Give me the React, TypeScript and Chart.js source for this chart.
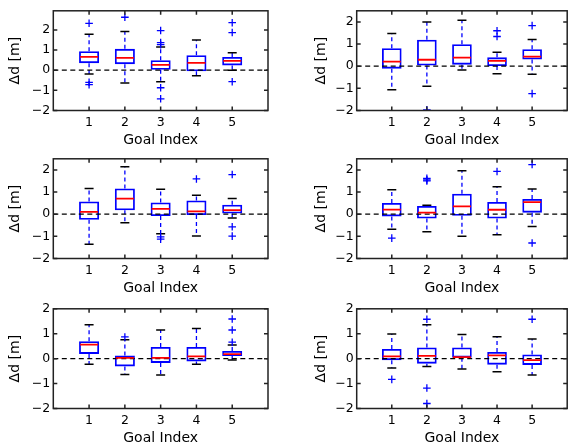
import { useEffect, useRef } from "react";
import { Chart, registerables } from "chart.js";

Chart.register(...registerables);

// Goal positions along the x axis and the y tick values shared by every panel
const goals = [1, 2, 3, 4, 5];
const yTicks = [-2, -1, 0, 1, 2];
const yMin = -2;
// Upper y limit per panel (row-major: top-left, top-right, mid-left, ...)
const yMaxes = [2.95, 2.5, 2.5, 2.5, 2, 2];

// Box-plot statistics, one row per panel, one column per goal
const whiskerLow = [
  [-0.19, -0.63, -0.57, -0.27, 0.0],
  [-1.06, -0.9, -0.17, -0.34, -0.36],
  [-1.36, -0.39, -0.88, -0.98, -0.17],
  [-0.68, -0.79, -1.0, -0.93, -0.56],
  [-0.22, -0.64, -0.66, -0.22, -0.05],
  [-0.38, -0.31, -0.42, -0.53, -0.66],
];
const quartileLow = [
  [0.35, 0.3, 0.02, -0.05, 0.24],
  [-0.11, 0.03, 0.07, 0.01, 0.3],
  [-0.25, 0.18, -0.08, -0.04, 0.03],
  [-0.1, -0.2, -0.07, -0.2, 0.07],
  [0.19, -0.31, -0.17, -0.11, 0.11],
  [-0.06, -0.2, 0.04, -0.24, -0.25],
];
const medians = [
  [0.66, 0.61, 0.27, 0.36, 0.46],
  [0.21, 0.29, 0.39, 0.24, 0.43],
  [0.1, 0.7, 0.24, 0.13, 0.18],
  [0.21, 0.07, 0.35, 0.2, 0.54],
  [0.56, 0.03, 0.03, 0.09, 0.18],
  [0.09, 0.11, 0.06, 0.13, -0.06],
];
const quartileHigh = [
  [0.94, 1.06, 0.5, 0.74, 0.66],
  [0.81, 1.19, 0.99, 0.4, 0.77],
  [0.57, 1.16, 0.53, 0.62, 0.43],
  [0.51, 0.37, 0.92, 0.55, 0.69],
  [0.7, 0.13, 0.47, 0.47, 0.31],
  [0.39, 0.45, 0.45, 0.27, 0.17],
];
const whiskerHigh = [
  [1.78, 1.92, 1.15, 1.5, 0.87],
  [1.47, 2.0, 2.07, 0.63, 1.2],
  [1.16, 2.14, 1.13, 0.85, 0.71],
  [1.1, 0.4, 1.96, 1.24, 1.14],
  [1.36, 0.76, 1.15, 1.21, 0.55],
  [0.99, 1.36, 0.97, 0.88, 0.79],
];
const outliers = [
  [[2.33, -0.6, -0.72], [2.63], [1.97, 1.37, 1.27, -0.87, -1.42], [], [2.36, 1.87, -0.57]],
  [[], [-1.97], [], [1.6, 1.34], [1.83, -1.24]],
  [[], [], [-1.02, -1.13], [1.59], [1.79, -0.57, -0.99]],
  [[-1.08], [1.62, 1.55, 1.5], [], [1.93], [2.24, -1.3]],
  [[], [0.87], [], [], [1.59, 1.15, 0.66]],
  [[-0.83], [1.58, -1.18, -1.8], [], [], [1.58]],
];

const FONT = "'DejaVu Sans', sans-serif";
const BLUE = "#0000ff";
const RED = "#ff0000";

// Canvas placement of each panel in the 3x2 grid
const COL_LEFT = [0, 286];
const COL_WIDTH = [286, 292];
const Y_AXIS_W = [53.3, 70.7];
const PAD_RIGHT = [18, 3.8];
const ROW_TOP = [0, 148.3, 297.7];
const CANVAS_H = 148;
const PLOT_TOP = 5;
const X_AXIS_H = 37.5;

const fmt = (v: number) => (v < 0 ? "\u2212" + Math.abs(v) : String(v));

// Draws the closed frame and the inward tick marks on all four sides
const framePlugin = {
  id: "frameTicks",
  afterDatasetsDraw(chart: any) {
    const { ctx, chartArea: a, scales } = chart;
    const len = 4;
    ctx.save();
    ctx.strokeStyle = "#222";
    ctx.lineWidth = 1.5;
    ctx.strokeRect(a.left, a.top, a.right - a.left, a.bottom - a.top);
    ctx.beginPath();
    for (const t of scales.y.ticks) {
      const py = scales.y.getPixelForValue(t.value);
      ctx.moveTo(a.left, py);
      ctx.lineTo(a.left + len, py);
      ctx.moveTo(a.right, py);
      ctx.lineTo(a.right - len, py);
    }
    for (const t of scales.x.ticks) {
      const px = scales.x.getPixelForValue(t.value);
      ctx.moveTo(px, a.bottom);
      ctx.lineTo(px, a.bottom - len);
      ctx.moveTo(px, a.top);
      ctx.lineTo(px, a.top + len);
    }
    ctx.stroke();
    ctx.restore();
  },
};

function buildConfig(p: number, col: number): any {
  const whiskers: any[] = [];
  goals.forEach((g, i) => {
    whiskers.push({ x: g, y: quartileHigh[p][i] }, { x: g, y: whiskerHigh[p][i] }, { x: g, y: null });
    whiskers.push({ x: g, y: quartileLow[p][i] }, { x: g, y: whiskerLow[p][i] }, { x: g, y: null });
  });
  const caps: any[] = [];
  goals.forEach((g, i) => {
    caps.push({ x: g, y: whiskerHigh[p][i] }, { x: g, y: whiskerLow[p][i] });
  });
  const fliers: any[] = [];
  goals.forEach((g, i) => outliers[p][i].forEach((v) => fliers.push({ x: g, y: v })));

  return {
    type: "bar",
    data: {
      datasets: [
        {
          type: "line",
          data: whiskers,
          borderColor: BLUE,
          borderWidth: 1.3,
          borderDash: [4, 3],
          pointRadius: 0,
          spanGaps: false,
          order: 5,
        },
        {
          type: "bar",
          data: goals.map((g, i) => ({ x: g, y: [quartileLow[p][i], quartileHigh[p][i]] })),
          backgroundColor: "rgba(0,0,0,0)",
          borderColor: BLUE,
          borderWidth: 1.8,
          borderSkipped: false,
          barPercentage: 0.56,
          categoryPercentage: 1,
          order: 4,
        },
        {
          type: "scatter",
          data: caps,
          pointStyle: "line",
          pointRadius: 4.5,
          borderColor: "#000",
          borderWidth: 1.5,
          order: 3,
        },
        {
          type: "line",
          data: [
            { x: 0, y: 0 },
            { x: 6, y: 0 },
          ],
          borderColor: "#000",
          borderWidth: 1.3,
          borderDash: [5, 3.5],
          pointRadius: 0,
          order: 2,
        },
        {
          type: "scatter",
          data: goals.map((g, i) => ({ x: g, y: medians[p][i] })),
          pointStyle: "line",
          pointRadius: 9,
          borderColor: RED,
          borderWidth: 1.8,
          order: 1,
        },
        {
          type: "scatter",
          data: fliers,
          pointStyle: "cross",
          pointRadius: 3.8,
          borderColor: BLUE,
          borderWidth: 1.3,
          order: 0,
        },
      ],
    },
    options: {
      responsive: false,
      animation: false,
      events: [],
      layout: { padding: { top: PLOT_TOP, left: 0, right: PAD_RIGHT[col], bottom: 0 } },
      plugins: { legend: { display: false }, tooltip: { enabled: false } },
      scales: {
        x: {
          type: "linear",
          min: 0,
          max: 6,
          offset: false,
          afterBuildTicks: (s: any) => {
            s.ticks = goals.map((v) => ({ value: v }));
          },
          afterFit: (s: any) => {
            s.height = X_AXIS_H;
            s.paddingLeft = 0;
            s.paddingRight = 0;
          },
          grid: { display: false, drawTicks: false, offset: false },
          border: { display: false },
          ticks: {
            font: { family: FONT, size: 12.5 },
            color: "#000",
            padding: 5,
            maxRotation: 0,
            autoSkip: false,
            callback: (v: any) => fmt(Number(v)),
          },
          title: {
            display: true,
            text: "Goal Index",
            font: { family: FONT, size: 14, lineHeight: 1 },
            color: "#000",
            padding: { top: 0, bottom: 0.5 },
          },
        },
        y: {
          type: "linear",
          min: yMin,
          max: yMaxes[p],
          afterBuildTicks: (s: any) => {
            s.ticks = yTicks.map((v) => ({ value: v }));
          },
          afterFit: (s: any) => {
            s.width = Y_AXIS_W[col];
            s.paddingTop = 0;
            s.paddingBottom = 0;
          },
          grid: { display: false, drawTicks: false },
          border: { display: false },
          ticks: {
            font: { family: FONT, size: 12.5 },
            color: "#000",
            padding: 3,
            autoSkip: false,
            callback: (v: any) => fmt(Number(v)),
          },
          title: {
            display: true,
            text: "\u0394d [m]",
            font: { family: FONT, size: 14, lineHeight: 1 },
            color: "#000",
            padding: { top: col === 0 ? 8.5 : 28, bottom: 0 },
          },
        },
      },
    },
    plugins: [framePlugin],
  };
}

function Panel({ index }: { index: number }) {
  const ref = useRef<HTMLCanvasElement | null>(null);
  const col = index % 2;
  const row = Math.floor(index / 2);
  useEffect(() => {
    if (!ref.current) return;
    const chart = new Chart(ref.current, buildConfig(index, col));
    return () => chart.destroy();
  }, [index, col]);
  return (
    <canvas
      ref={ref}
      width={COL_WIDTH[col]}
      height={CANVAS_H}
      style={{
        position: "absolute",
        left: COL_LEFT[col],
        top: ROW_TOP[row],
        width: COL_WIDTH[col],
        height: CANVAS_H,
      }}
    />
  );
}

export default function App() {
  return (
    <div
      style={{
        position: "fixed",
        left: 0,
        top: 0,
        width: 572,
        height: 448,
        overflow: "hidden",
        background: "#fff",
      }}
    >
      {[0, 1, 2, 3, 4, 5].map((i) => (
        <Panel key={i} index={i} />
      ))}
    </div>
  );
}
